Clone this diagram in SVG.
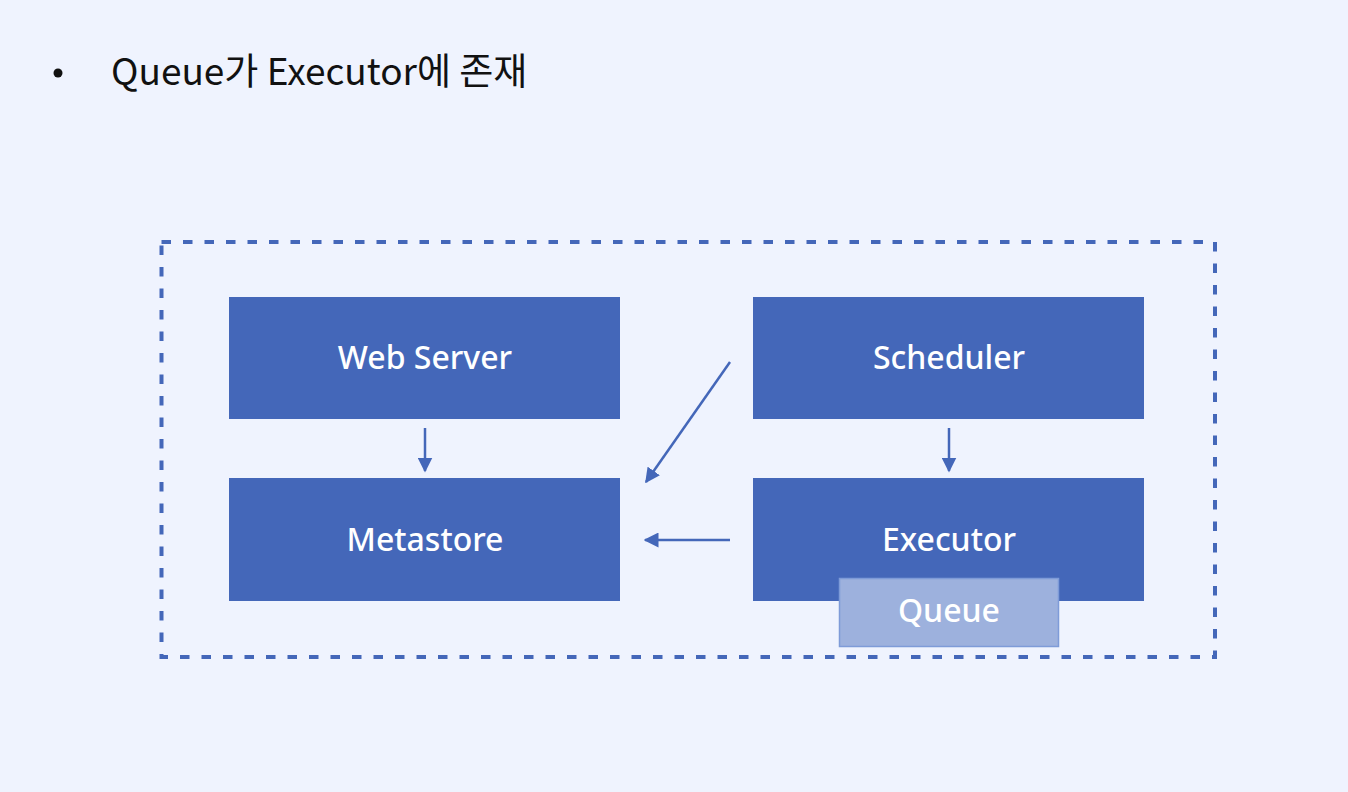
<svg xmlns="http://www.w3.org/2000/svg" width="1348" height="792" viewBox="0 0 1348 792">
<defs>
<style>
.box{fill:#4467B9;}
.lbl{font-family:"Noto Sans","Open Sans",sans-serif;font-size:32px;font-weight:500;fill:#ffffff;text-anchor:middle;dominant-baseline:central;}
.conn{stroke:#4467B9;stroke-width:2.5;fill:none;marker-end:url(#ah);}
</style>
<marker id="ah" viewBox="0 0 10 10" refX="9" refY="5" markerWidth="6" markerHeight="6" orient="auto" markerUnits="strokeWidth">
<path d="M0,0 L10,5 L0,10 z" fill="#4467B9"/>
</marker>
</defs>
<rect width="1348" height="792" fill="#EFF3FE"/>
<g id="title">
<circle cx="58" cy="73" r="4.5" fill="#111"/>
<text x="111" y="85" font-family="'Noto Sans CJK KR','Noto Sans',sans-serif" font-size="37" font-weight="400" fill="#111">Queue가 Executor에 존재</text>
</g>
<g id="boundary">
<rect x="161.5" y="242" width="1053.5" height="415" fill="none" stroke="#4467B9" stroke-width="4" stroke-dasharray="9.5 12"/>
</g>
<g id="webserver">
<rect class="box" x="229" y="297" width="391" height="122"/>
<text class="lbl" x="425" y="356">Web Server</text>
</g>
<g id="scheduler">
<rect class="box" x="753" y="297" width="391" height="122"/>
<text class="lbl" x="949" y="356">Scheduler</text>
</g>
<g id="metastore">
<rect class="box" x="229" y="478" width="391" height="123"/>
<text class="lbl" x="425" y="538">Metastore</text>
</g>
<g id="executor">
<rect class="box" x="753" y="478" width="391" height="123"/>
<text class="lbl" x="949" y="538">Executor</text>
</g>
<g id="queue">
<rect x="839.5" y="578.5" width="219" height="68" fill="#9DB1DD" stroke="#7E9BD8" stroke-width="1.5"/>
<text class="lbl" x="949" y="609">Queue</text>
</g>
<g id="connectors">
<line class="conn" x1="425" y1="428" x2="425" y2="471"/>
<line class="conn" x1="949" y1="428" x2="949" y2="471"/>
<line class="conn" x1="730" y1="362" x2="646" y2="482"/>
<line class="conn" x1="730" y1="540" x2="645" y2="540"/>
</g>
</svg>
